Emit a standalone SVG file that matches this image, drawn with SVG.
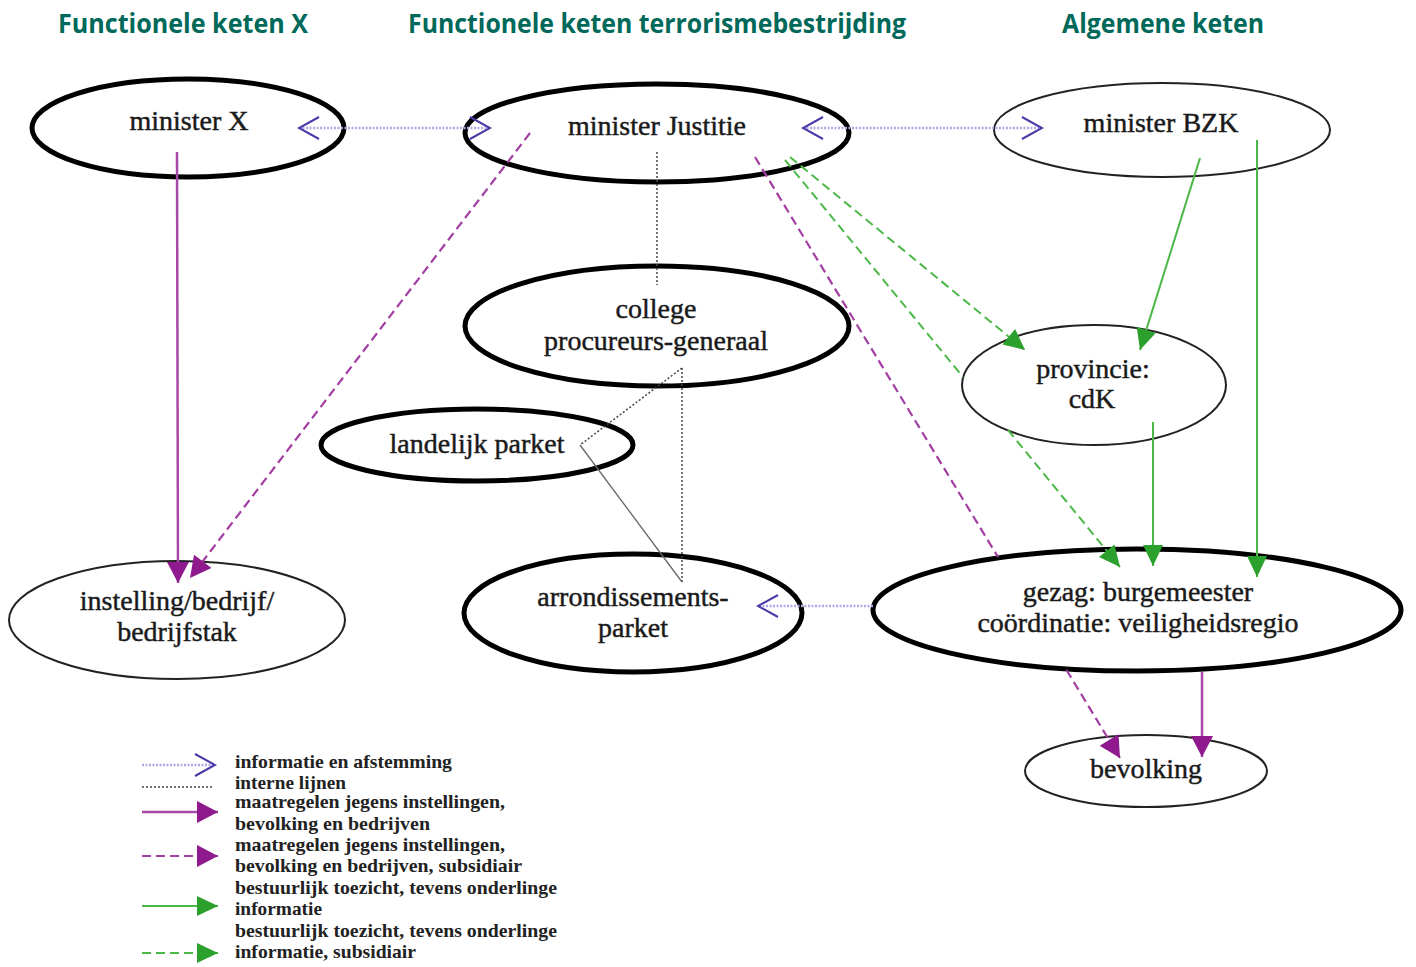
<svg xmlns="http://www.w3.org/2000/svg" width="1416" height="967" viewBox="0 0 1416 967">
<style>
.hdr{font-family:"Open Sans","Noto Sans",sans-serif;font-weight:bold;font-size:26px;fill:#00695a}
.lbl{font-family:"Liberation Serif",serif;font-size:28px;fill:#1a1a1a;stroke:#1a1a1a;stroke-width:0.45;text-anchor:middle}
.leg{font-family:"Liberation Serif",serif;font-weight:bold;font-size:19px;fill:#222}
.thick{fill:#fff;stroke:#000;stroke-width:5}
.thin{fill:#fff;stroke:#222;stroke-width:2}
.info{fill:none;stroke:#b3a6e6;stroke-width:2.5;stroke-dasharray:2 1.5}
.intern{fill:none;stroke:#444;stroke-width:1.5;stroke-dasharray:2 2}
.introl{fill:none;stroke:#666;stroke-width:1.3}
.pur{fill:none;stroke:#a847a8;stroke-width:2.5}
.purd{fill:none;stroke:#a33ea3;stroke-width:2.2;stroke-dasharray:9 5}
.grn{fill:none;stroke:#4cb848;stroke-width:2}
.grnd{fill:none;stroke:#4cb848;stroke-width:2;stroke-dasharray:9 5}
</style>
<defs>
<marker id="chev" markerUnits="userSpaceOnUse" viewBox="-24 -13 26 26" refX="0" refY="0" markerWidth="26" markerHeight="26" orient="auto-start-reverse">
<path d="M-20,-11 L0,0 L-20,11" fill="none" stroke="#4a3aa8" stroke-width="2"/>
</marker>
<marker id="ap" markerUnits="userSpaceOnUse" viewBox="-22 -12 22 24" refX="0" refY="0" markerWidth="22" markerHeight="24" orient="auto">
<path d="M-21,-11 L0,0 L-21,11 Z" fill="#8e1a8e"/>
</marker>
<marker id="ag" markerUnits="userSpaceOnUse" viewBox="-22 -12 22 24" refX="0" refY="0" markerWidth="22" markerHeight="24" orient="auto">
<path d="M-21,-10 L0,0 L-21,10 Z" fill="#2ca02c"/>
</marker>
</defs>
<rect width="1416" height="967" fill="#fff"/>

<g id="headers">
<text class="hdr" x="58" y="33" textLength="250" lengthAdjust="spacingAndGlyphs">Functionele keten X</text>
<text class="hdr" x="408" y="33" textLength="498" lengthAdjust="spacingAndGlyphs">Functionele keten terrorismebestrijding</text>
<text class="hdr" x="1062" y="33" textLength="202" lengthAdjust="spacingAndGlyphs">Algemene keten</text>
</g>

<g id="node-minister-x"><ellipse class="thick" cx="188" cy="128" rx="156" ry="49"/><text class="lbl" x="189" y="130">minister X</text></g>
<g id="node-minister-justitie"><ellipse class="thick" cx="657" cy="133" rx="192" ry="49"/><text class="lbl" x="657" y="135">minister Justitie</text></g>
<g id="node-minister-bzk"><ellipse class="thin" cx="1162" cy="130" rx="168" ry="47"/><text class="lbl" x="1161" y="132">minister BZK</text></g>
<g id="node-college"><ellipse class="thick" cx="657" cy="326" rx="192" ry="60"/><text class="lbl" x="656" y="318">college</text><text class="lbl" x="656" y="350">procureurs-generaal</text></g>
<g id="node-landelijk"><ellipse class="thick" cx="477" cy="445" rx="156" ry="36"/><text class="lbl" x="477" y="453">landelijk parket</text></g>
<g id="node-arrondissements"><ellipse class="thick" cx="633" cy="613" rx="169" ry="59"/><text class="lbl" x="633" y="606">arrondissements-</text><text class="lbl" x="633" y="637">parket</text></g>
<g id="node-instelling"><ellipse class="thin" cx="177" cy="620" rx="168" ry="59"/><text class="lbl" x="177" y="610">instelling/bedrijf/</text><text class="lbl" x="177" y="641">bedrijfstak</text></g>
<g id="node-provincie"><ellipse class="thin" cx="1094" cy="385" rx="132" ry="60"/><text class="lbl" x="1093" y="378">provincie:</text><text class="lbl" x="1092" y="408">cdK</text></g>
<g id="node-gezag"><ellipse class="thick" cx="1137" cy="610" rx="264" ry="61"/><text class="lbl" x="1138" y="601">gezag: burgemeester</text><text class="lbl" x="1138" y="632">coördinatie: veiligheidsregio</text></g>
<g id="node-bevolking"><ellipse class="thin" cx="1146" cy="771" rx="121" ry="36"/><text class="lbl" x="1146" y="778">bevolking</text></g>

<g id="connectors">
<line class="info" x1="299" y1="128" x2="490" y2="128" marker-start="url(#chev)" marker-end="url(#chev)"/>
<line class="info" x1="803" y1="128" x2="1042" y2="128" marker-start="url(#chev)" marker-end="url(#chev)"/>
<line class="info" x1="873" y1="606" x2="758" y2="606" marker-end="url(#chev)"/>
<line class="intern" x1="657" y1="152" x2="657" y2="285"/>
<line class="intern" x1="682" y1="368" x2="682" y2="582"/>
<line class="intern" x1="682" y1="368" x2="580" y2="445"/>
<line class="introl" x1="580" y1="445" x2="682" y2="582"/>
<line class="pur" x1="177" y1="152" x2="178" y2="583" marker-end="url(#ap)"/>
<line class="purd" x1="530" y1="133" x2="190" y2="578" marker-end="url(#ap)"/>
<path class="purd" d="M755,157 L998,557 M1066.5,670 L1120,758" marker-end="url(#ap)"/>
<line class="pur" x1="1202" y1="672" x2="1202" y2="757" marker-end="url(#ap)"/>
<line class="grnd" x1="790" y1="157" x2="1025" y2="350" marker-end="url(#ag)"/>
<path class="grnd" d="M785,160 L963,377 M1008,430 L1120,567" marker-end="url(#ag)"/>
<line class="grn" x1="1200" y1="158" x2="1140" y2="350" marker-end="url(#ag)"/>
<line class="grn" x1="1257" y1="140" x2="1257" y2="577" marker-end="url(#ag)"/>
<line class="grn" x1="1153" y1="422" x2="1153" y2="566" marker-end="url(#ag)"/>
</g>

<g id="legend">
<line class="info" x1="142" y1="765" x2="215" y2="765" marker-end="url(#chev)"/>
<text class="leg" x="235" y="768" textLength="217" lengthAdjust="spacingAndGlyphs">informatie en afstemming</text>
<line class="intern" x1="142" y1="787" x2="213" y2="787"/>
<text class="leg" x="235" y="789" textLength="111" lengthAdjust="spacingAndGlyphs">interne lijnen</text>
<line class="pur" x1="142" y1="812" x2="218" y2="812" marker-end="url(#ap)"/>
<text class="leg" x="235" y="808" textLength="270" lengthAdjust="spacingAndGlyphs">maatregelen jegens instellingen,</text>
<text class="leg" x="235" y="830" textLength="195" lengthAdjust="spacingAndGlyphs">bevolking en bedrijven</text>
<line class="purd" x1="142" y1="856" x2="218" y2="856" marker-end="url(#ap)"/>
<text class="leg" x="235" y="851" textLength="270" lengthAdjust="spacingAndGlyphs">maatregelen jegens instellingen,</text>
<text class="leg" x="235" y="872" textLength="287" lengthAdjust="spacingAndGlyphs">bevolking en bedrijven, subsidiair</text>
<line class="grn" x1="142" y1="906" x2="218" y2="906" marker-end="url(#ag)"/>
<text class="leg" x="235" y="894" textLength="322" lengthAdjust="spacingAndGlyphs">bestuurlijk toezicht, tevens onderlinge</text>
<text class="leg" x="235" y="915" textLength="87" lengthAdjust="spacingAndGlyphs">informatie</text>
<line class="grnd" x1="142" y1="953" x2="218" y2="953" marker-end="url(#ag)"/>
<text class="leg" x="235" y="937" textLength="322" lengthAdjust="spacingAndGlyphs">bestuurlijk toezicht, tevens onderlinge</text>
<text class="leg" x="235" y="958" textLength="181" lengthAdjust="spacingAndGlyphs">informatie, subsidiair</text>
</g>
</svg>
